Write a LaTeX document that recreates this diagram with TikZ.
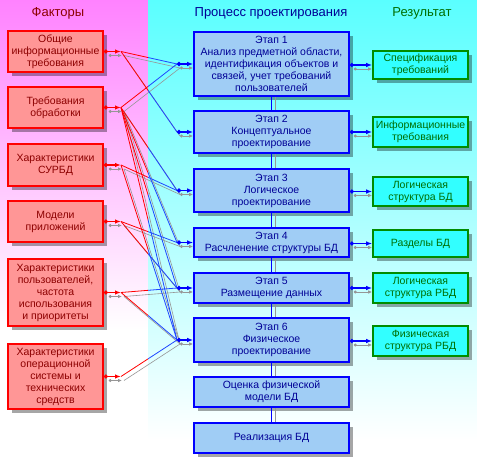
\documentclass[tikz,border=0pt]{standalone}
\usepackage{fontspec}
\setmainfont{Liberation Sans}
\usetikzlibrary{arrows.meta,shadows,calc}
\definecolor{lfill}{RGB}{255,150,150}
\definecolor{lbord}{RGB}{255,0,0}
\definecolor{ltext}{RGB}{140,0,0}
\definecolor{mfill}{RGB}{160,205,245}
\definecolor{mbord}{RGB}{0,0,255}
\definecolor{mtext}{RGB}{0,0,150}
\definecolor{rfill}{RGB}{50,255,255}
\definecolor{rbord}{RGB}{0,140,0}
\definecolor{rtext}{RGB}{0,110,0}
\definecolor{pinkbg}{RGB}{255,130,255}
\definecolor{cyanbg}{RGB}{90,255,255}
\definecolor{fanred}{RGB}{255,0,0}
\definecolor{fanblue}{RGB}{30,70,255}
\definecolor{shline}{RGB}{150,150,150}
\begin{document}
\begin{tikzpicture}[x=1pt,y=-1pt,
  box/.style={draw, line width=1.6pt, align=center, inner sep=0pt,
    font=\fontsize{10.5}{12}\selectfont,
    drop shadow={shadow xshift=4pt, shadow yshift=-4pt, fill=black, opacity=0.35}},
  lbox/.style={box, fill=lfill, draw=lbord, text=ltext, minimum width=95pt},
  mbox/.style={box, fill=mfill, draw=mbord, text=mtext, minimum width=155pt},
  rbox/.style={box, fill=rfill, draw=rbord, text=rtext, minimum width=95pt},
  title/.style={font=\fontsize{13}{15}\selectfont, inner sep=0pt},
  rarrow/.style={draw=fanred, line width=1.4pt, {Circle[length=4pt]}-{Latex[length=6pt,width=4.5pt]}},
  barrow/.style={draw=mbord, line width=1.4pt, {Circle[length=4pt]}-{Latex[length=6pt,width=4.5pt]}},
  garrow/.style={draw=shline, line width=0.9pt, {Circle[length=3pt]}-{Latex[length=4pt,width=3.5pt]}},
  rline/.style={draw=fanred, line width=0.8pt},
  bline/.style={draw=fanblue, line width=0.8pt},
  gline/.style={draw=shline, line width=0.6pt},
  vline/.style={draw=mbord, line width=1.4pt},
  vshadow/.style={draw=shline, line width=1pt}
]
\useasboundingbox (0,0) rectangle (477,470);
\fill[white] (0,0) rectangle (477,470);
\shade[top color=pinkbg, bottom color=white] (0,0) rectangle (148,330);
\shade[top color=cyanbg, bottom color=white] (148,0) rectangle (477,440);

% titles
\node[title, text=ltext] (tF) at (58,13) {Факторы};
\node[title, text=mtext] (tP) at (271,13) {Процесс проектирования};
\node[title, text=rtext] (tR) at (422,13) {Результат};

% factor boxes
\node[lbox, minimum height=41pt] (L1) at (55.5,51.5) {Общие\\информационные\\требования};
\node[lbox, minimum height=41pt] (L2) at (55.5,107.5) {Требования\\обработки};
\node[lbox, minimum height=42pt] (L3) at (55.5,165) {Характеристики\\СУРБД};
\node[lbox, minimum height=41pt] (L4) at (55.5,221.5) {Модели\\приложений};
\node[lbox, minimum height=67pt] (L5) at (55.5,292.5) {Характеристики\\пользователей,\\частота\\использования\\и приоритеты};
\node[lbox, minimum height=65pt] (L6) at (55.5,376.5) {Характеристики\\операционной\\системы и\\технических\\средств};

% process boxes
\node[mbox, minimum height=64pt] (M1) at (271.5,64) {Этап 1\\Анализ предметной области,\\идентификация объектов и\\связей, учет требований\\пользователей};
\node[mbox, minimum height=42pt] (M2) at (271.5,132) {Этап 2\\Концептуальное\\проектирование};
\node[mbox, minimum height=43pt] (M3) at (271.5,190.5) {Этап 3\\Логическое\\проектирование};
\node[mbox, minimum height=29pt] (M4) at (271.5,242.5) {Этап 4\\Расчленение структуры БД};
\node[mbox, minimum height=30pt] (M5) at (271.5,288) {Этап 5\\Размещение данных};
\node[mbox, minimum height=44pt] (M6) at (271.5,340) {Этап 6\\Физическое\\проектирование};
\node[mbox, minimum height=30pt] (M7) at (271.5,392) {Оценка физической\\модели БД};
\node[mbox, minimum height=30pt] (M8) at (271.5,438) {Реализация БД};

% result boxes
\node[rbox, minimum height=28pt] (R1) at (420.5,65) {Спецификация\\требований};
\node[rbox, minimum height=30pt] (R2) at (420.5,132) {Информационные\\требования};
\node[rbox, minimum height=29pt] (R3) at (420.5,191.5) {Логическая\\структура БД};
\node[rbox, minimum height=27pt] (R4) at (420.5,243.5) {Разделы БД};
\node[rbox, minimum height=30pt] (R5) at (420.5,288) {Логическая\\структура РБД};
\node[rbox, minimum height=30pt] (R6) at (420.5,341) {Физическая\\структура РБД};

% vertical chain
\foreach \a/\b in {M1/M2,M2/M3,M3/M4,M4/M5,M5/M6,M6/M7,M7/M8}{
  \draw[vshadow] ([xshift=4pt]\a.south) -- ([xshift=4pt]\b.north);
  \draw[vline] (\a.south) -- (\b.north);
}

% fan points
\foreach \i/\y in {1/51.5,2/107.5,3/165,4/221.5,5/292.5,6/376.5}
  \coordinate (F\i) at (121,\y);
\foreach \i/\y in {1/64,2/132,3/190.5,4/242.5,5/288,6/340}
  \coordinate (S\i) at (177,\y);

% fan lines: shadows
\foreach \a/\b in {F1/S1,F1/S2,F2/S1,F2/S3,F2/S4,F2/S5,F2/S6,F3/S3,F3/S6,F4/S4,F4/S5,F5/S5,F5/S6,F6/S6}
  \draw[gline] ([shift={(3,4)}]\a) -- ([shift={(3,4)}]\b);
\begin{scope}
  \clip (0,0) rectangle (148,470);
  \foreach \a/\b in {F1/S1,F1/S2,F2/S1,F2/S3,F2/S4,F2/S5,F2/S6,F3/S3,F3/S6,F4/S4,F4/S5,F5/S5,F5/S6,F6/S6}
    \draw[rline] (\a) -- (\b);
\end{scope}
\begin{scope}
  \clip (148,0) rectangle (477,470);
  \foreach \a/\b in {F1/S1,F1/S2,F2/S1,F2/S3,F2/S4,F2/S5,F2/S6,F3/S3,F3/S6,F4/S4,F4/S5,F5/S5,F5/S6,F6/S6}
    \draw[bline] (\a) -- (\b);
\end{scope}

% short arrows from factors
\foreach \i in {1,...,6}{
  \draw[garrow] ([shift={(5,4)}]L\i.east) -- ([shift={(1,4)}]F\i);
  \draw[rarrow] (L\i.east) -- (F\i);
}
% short arrows into stages
\foreach \i in {1,...,6}{
  \draw[garrow] ([shift={(3,4)}]S\i) -- ([shift={(0,4)}]M\i.west);
  \draw[barrow] (S\i) -- (M\i.west);
}
% arrows to results
\foreach \i in {1,...,6}{
  \draw[garrow] ([shift={(4,4)}]M\i.east |- R\i.west) -- ([shift={(0,4)}]R\i.west);
  \draw[barrow] (M\i.east |- R\i.west) -- (R\i.west);
}
\end{tikzpicture}
\end{document}
